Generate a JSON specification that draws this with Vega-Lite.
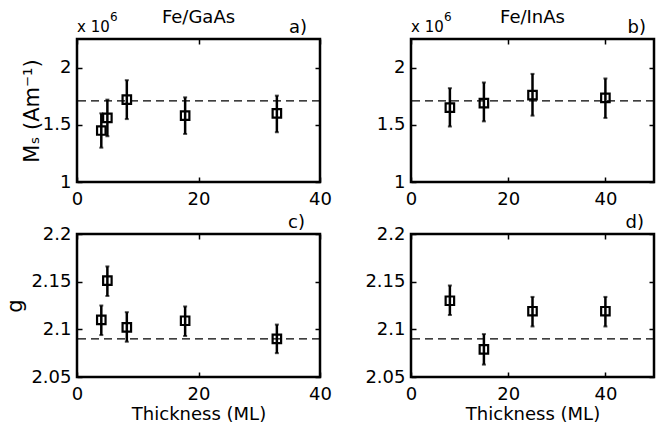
{
  "$schema": "https://vega.github.io/schema/vega-lite/v6.json",
  "autosize": {"type": "none"},
  "padding": {"left": 77, "top": 39, "right": 588, "bottom": 389},
  "background": "white",
  "datasets": {
    "a": [
      {"t": 4, "v": 1.45, "lo": 1.30, "hi": 1.60},
      {"t": 5, "v": 1.56, "lo": 1.40, "hi": 1.72},
      {"t": 8.2, "v": 1.72, "lo": 1.55, "hi": 1.89},
      {"t": 17.8, "v": 1.58, "lo": 1.42, "hi": 1.74},
      {"t": 32.9, "v": 1.60, "lo": 1.435, "hi": 1.755}
    ],
    "b": [
      {"t": 8, "v": 1.65, "lo": 1.485, "hi": 1.82},
      {"t": 15, "v": 1.69, "lo": 1.53, "hi": 1.87},
      {"t": 25, "v": 1.76, "lo": 1.58, "hi": 1.945},
      {"t": 40, "v": 1.735, "lo": 1.56, "hi": 1.905}
    ],
    "c": [
      {"t": 4, "v": 2.11, "lo": 2.094, "hi": 2.125},
      {"t": 5, "v": 2.151, "lo": 2.135, "hi": 2.166},
      {"t": 8.2, "v": 2.102, "lo": 2.087, "hi": 2.118},
      {"t": 17.8, "v": 2.109, "lo": 2.093, "hi": 2.124},
      {"t": 32.9, "v": 2.09, "lo": 2.075, "hi": 2.105}
    ],
    "d": [
      {"t": 8, "v": 2.13, "lo": 2.115, "hi": 2.146},
      {"t": 15, "v": 2.079, "lo": 2.063, "hi": 2.095},
      {"t": 25, "v": 2.119, "lo": 2.103, "hi": 2.134},
      {"t": 40, "v": 2.119, "lo": 2.103, "hi": 2.134}
    ],
    "msref": [{"v": 1.71}],
    "gref": [{"v": 2.09}]
  },
  "concat": [
    {
      "width": 243, "height": 143,
      "resolve": {"axis": {"x": "independent", "y": "independent"}},
      "layer": [
        {"data": {"name": "msref"}, "mark": {"type": "rule", "strokeDash": [8, 5], "strokeWidth": 1.2, "color": "black"},
         "encoding": {"y": {"field": "v", "type": "quantitative", "scale": {"domain": [1, 2.25], "nice": false, "zero": false}, "axis": null}}},
        {"data": {"name": "a"}, "mark": {"type": "rule", "strokeWidth": 2.5, "color": "black"},
         "encoding": {"x": {"field": "t", "type": "quantitative", "scale": {"domain": [0, 40], "nice": false, "zero": false}, "axis": null},
                      "y": {"field": "lo", "type": "quantitative", "scale": {"domain": [1, 2.25], "nice": false, "zero": false}, "axis": null}, "y2": {"field": "hi"}}},
        {"data": {"name": "a"}, "mark": {"type": "tick", "orient": "horizontal", "size": 4, "thickness": 2, "color": "black"},
         "encoding": {"x": {"field": "t", "type": "quantitative", "scale": {"domain": [0, 40], "nice": false, "zero": false}, "axis": null},
                      "y": {"field": "lo", "type": "quantitative", "scale": {"domain": [1, 2.25], "nice": false, "zero": false}, "axis": null}}},
        {"data": {"name": "a"}, "mark": {"type": "tick", "orient": "horizontal", "size": 4, "thickness": 2, "color": "black"},
         "encoding": {"x": {"field": "t", "type": "quantitative", "scale": {"domain": [0, 40], "nice": false, "zero": false}, "axis": null},
                      "y": {"field": "hi", "type": "quantitative", "scale": {"domain": [1, 2.25], "nice": false, "zero": false}, "axis": null}}},
        {"data": {"name": "a"}, "mark": {"type": "point", "shape": "square", "filled": false, "size": 72, "strokeWidth": 2.2, "color": "black", "opacity": 1},
         "encoding": {"x": {"field": "t", "type": "quantitative", "scale": {"domain": [0, 40], "nice": false, "zero": false}, "axis": {"orient": "bottom", "values": [0, 20, 40], "format": "d", "title": null}},
                      "y": {"field": "v", "type": "quantitative", "scale": {"domain": [1, 2.25], "nice": false, "zero": false}, "axis": {"orient": "left", "values": [1, 1.5, 2], "format": ".2~r", "title": "M\u209B (Am\u207B\u00B9)", "titleX": -39, "titleBaseline": "alphabetic", "titleFontSize": 21}}}},
        {"data": {"values": [{"label": "Fe/GaAs", "x": 20, "y": 2.25}]}, "mark": {"type": "text", "align": "center", "baseline": "alphabetic", "dy": -16, "fontSize": 18, "color": "black"},
         "encoding": {"text": {"field": "label"}, "x": {"field": "x", "type": "quantitative", "scale": {"domain": [0, 40], "nice": false, "zero": false}, "axis": null},
                      "y": {"field": "y", "type": "quantitative", "scale": {"domain": [1, 2.25], "nice": false, "zero": false}, "axis": null}}},
        {"data": {"values": [{"label": "x 10", "x": 0, "y": 2.25}]}, "mark": {"type": "text", "align": "left", "baseline": "alphabetic", "dy": -7, "fontSize": 15, "color": "black"},
         "encoding": {"text": {"field": "label"}, "x": {"field": "x", "type": "quantitative", "scale": {"domain": [0, 40], "nice": false, "zero": false}, "axis": null},
                      "y": {"field": "y", "type": "quantitative", "scale": {"domain": [1, 2.25], "nice": false, "zero": false}, "axis": null}}},
        {"data": {"values": [{"label": "6", "x": 0, "y": 2.25}]}, "mark": {"type": "text", "align": "left", "baseline": "alphabetic", "dx": 33, "dy": -18, "fontSize": 12, "color": "black"},
         "encoding": {"text": {"field": "label"}, "x": {"field": "x", "type": "quantitative", "scale": {"domain": [0, 40], "nice": false, "zero": false}, "axis": null},
                      "y": {"field": "y", "type": "quantitative", "scale": {"domain": [1, 2.25], "nice": false, "zero": false}, "axis": null}}},
        {"data": {"values": [{"label": "a)", "x": 40, "y": 2.25}]}, "mark": {"type": "text", "align": "right", "baseline": "alphabetic", "dx": -13, "dy": -6, "fontSize": 18, "color": "black"},
         "encoding": {"text": {"field": "label"}, "x": {"field": "x", "type": "quantitative", "scale": {"domain": [0, 40], "nice": false, "zero": false}, "axis": null},
                      "y": {"field": "y", "type": "quantitative", "scale": {"domain": [1, 2.25], "nice": false, "zero": false}, "axis": null}}},
        {"data": {"name": "a"}, "mark": {"type": "point", "opacity": 0},
         "encoding": {"x": {"field": "t", "type": "quantitative", "scale": {"domain": [0, 40], "nice": false, "zero": false}, "axis": {"orient": "top", "labels": false, "values": [0, 20, 40], "title": null}},
                      "y": {"field": "v", "type": "quantitative", "scale": {"domain": [1, 2.25], "nice": false, "zero": false}, "axis": {"orient": "right", "labels": false, "values": [1, 1.5, 2], "title": null}}}}
      ]
    },
    {
      "width": 243, "height": 143,
      "resolve": {"axis": {"x": "independent", "y": "independent"}},
      "layer": [
        {"data": {"name": "msref"}, "mark": {"type": "rule", "strokeDash": [8, 5], "strokeWidth": 1.2, "color": "black"},
         "encoding": {"y": {"field": "v", "type": "quantitative", "scale": {"domain": [1, 2.25], "nice": false, "zero": false}, "axis": null}}},
        {"data": {"name": "b"}, "mark": {"type": "rule", "strokeWidth": 2.5, "color": "black"},
         "encoding": {"x": {"field": "t", "type": "quantitative", "scale": {"domain": [0, 50], "nice": false, "zero": false}, "axis": null},
                      "y": {"field": "lo", "type": "quantitative", "scale": {"domain": [1, 2.25], "nice": false, "zero": false}, "axis": null}, "y2": {"field": "hi"}}},
        {"data": {"name": "b"}, "mark": {"type": "tick", "orient": "horizontal", "size": 4, "thickness": 2, "color": "black"},
         "encoding": {"x": {"field": "t", "type": "quantitative", "scale": {"domain": [0, 50], "nice": false, "zero": false}, "axis": null},
                      "y": {"field": "lo", "type": "quantitative", "scale": {"domain": [1, 2.25], "nice": false, "zero": false}, "axis": null}}},
        {"data": {"name": "b"}, "mark": {"type": "tick", "orient": "horizontal", "size": 4, "thickness": 2, "color": "black"},
         "encoding": {"x": {"field": "t", "type": "quantitative", "scale": {"domain": [0, 50], "nice": false, "zero": false}, "axis": null},
                      "y": {"field": "hi", "type": "quantitative", "scale": {"domain": [1, 2.25], "nice": false, "zero": false}, "axis": null}}},
        {"data": {"name": "b"}, "mark": {"type": "point", "shape": "square", "filled": false, "size": 72, "strokeWidth": 2.2, "color": "black", "opacity": 1},
         "encoding": {"x": {"field": "t", "type": "quantitative", "scale": {"domain": [0, 50], "nice": false, "zero": false}, "axis": {"orient": "bottom", "values": [0, 20, 40], "format": "d", "title": null}},
                      "y": {"field": "v", "type": "quantitative", "scale": {"domain": [1, 2.25], "nice": false, "zero": false}, "axis": {"orient": "left", "values": [1, 1.5, 2], "format": ".2~r", "title": null}}}},
        {"data": {"values": [{"label": "Fe/InAs", "x": 25, "y": 2.25}]}, "mark": {"type": "text", "align": "center", "baseline": "alphabetic", "dy": -16, "fontSize": 18, "color": "black"},
         "encoding": {"text": {"field": "label"}, "x": {"field": "x", "type": "quantitative", "scale": {"domain": [0, 50], "nice": false, "zero": false}, "axis": null},
                      "y": {"field": "y", "type": "quantitative", "scale": {"domain": [1, 2.25], "nice": false, "zero": false}, "axis": null}}},
        {"data": {"values": [{"label": "x 10", "x": 0, "y": 2.25}]}, "mark": {"type": "text", "align": "left", "baseline": "alphabetic", "dy": -7, "fontSize": 15, "color": "black"},
         "encoding": {"text": {"field": "label"}, "x": {"field": "x", "type": "quantitative", "scale": {"domain": [0, 50], "nice": false, "zero": false}, "axis": null},
                      "y": {"field": "y", "type": "quantitative", "scale": {"domain": [1, 2.25], "nice": false, "zero": false}, "axis": null}}},
        {"data": {"values": [{"label": "6", "x": 0, "y": 2.25}]}, "mark": {"type": "text", "align": "left", "baseline": "alphabetic", "dx": 33, "dy": -18, "fontSize": 12, "color": "black"},
         "encoding": {"text": {"field": "label"}, "x": {"field": "x", "type": "quantitative", "scale": {"domain": [0, 50], "nice": false, "zero": false}, "axis": null},
                      "y": {"field": "y", "type": "quantitative", "scale": {"domain": [1, 2.25], "nice": false, "zero": false}, "axis": null}}},
        {"data": {"values": [{"label": "b)", "x": 50, "y": 2.25}]}, "mark": {"type": "text", "align": "right", "baseline": "alphabetic", "dx": -8, "dy": -6, "fontSize": 18, "color": "black"},
         "encoding": {"text": {"field": "label"}, "x": {"field": "x", "type": "quantitative", "scale": {"domain": [0, 50], "nice": false, "zero": false}, "axis": null},
                      "y": {"field": "y", "type": "quantitative", "scale": {"domain": [1, 2.25], "nice": false, "zero": false}, "axis": null}}},
        {"data": {"name": "b"}, "mark": {"type": "point", "opacity": 0},
         "encoding": {"x": {"field": "t", "type": "quantitative", "scale": {"domain": [0, 50], "nice": false, "zero": false}, "axis": {"orient": "top", "labels": false, "values": [0, 20, 40], "title": null}},
                      "y": {"field": "v", "type": "quantitative", "scale": {"domain": [1, 2.25], "nice": false, "zero": false}, "axis": {"orient": "right", "labels": false, "values": [1, 1.5, 2], "title": null}}}}
      ]
    },
    {
      "width": 243, "height": 143,
      "resolve": {"axis": {"x": "independent", "y": "independent"}},
      "layer": [
        {"data": {"name": "gref"}, "mark": {"type": "rule", "strokeDash": [8, 5], "strokeWidth": 1.2, "color": "black"},
         "encoding": {"y": {"field": "v", "type": "quantitative", "scale": {"domain": [2.05, 2.2], "nice": false, "zero": false}, "axis": null}}},
        {"data": {"name": "c"}, "mark": {"type": "rule", "strokeWidth": 2.5, "color": "black"},
         "encoding": {"x": {"field": "t", "type": "quantitative", "scale": {"domain": [0, 40], "nice": false, "zero": false}, "axis": null},
                      "y": {"field": "lo", "type": "quantitative", "scale": {"domain": [2.05, 2.2], "nice": false, "zero": false}, "axis": null}, "y2": {"field": "hi"}}},
        {"data": {"name": "c"}, "mark": {"type": "tick", "orient": "horizontal", "size": 4, "thickness": 2, "color": "black"},
         "encoding": {"x": {"field": "t", "type": "quantitative", "scale": {"domain": [0, 40], "nice": false, "zero": false}, "axis": null},
                      "y": {"field": "lo", "type": "quantitative", "scale": {"domain": [2.05, 2.2], "nice": false, "zero": false}, "axis": null}}},
        {"data": {"name": "c"}, "mark": {"type": "tick", "orient": "horizontal", "size": 4, "thickness": 2, "color": "black"},
         "encoding": {"x": {"field": "t", "type": "quantitative", "scale": {"domain": [0, 40], "nice": false, "zero": false}, "axis": null},
                      "y": {"field": "hi", "type": "quantitative", "scale": {"domain": [2.05, 2.2], "nice": false, "zero": false}, "axis": null}}},
        {"data": {"name": "c"}, "mark": {"type": "point", "shape": "square", "filled": false, "size": 72, "strokeWidth": 2.2, "color": "black", "opacity": 1},
         "encoding": {"x": {"field": "t", "type": "quantitative", "scale": {"domain": [0, 40], "nice": false, "zero": false}, "axis": {"orient": "bottom", "values": [0, 20, 40], "format": "d", "title": "Thickness (ML)", "titleY": 42, "titleBaseline": "alphabetic"}},
                      "y": {"field": "v", "type": "quantitative", "scale": {"domain": [2.05, 2.2], "nice": false, "zero": false}, "axis": {"orient": "left", "values": [2.05, 2.1, 2.15, 2.2], "format": ".3~r", "title": "g", "titleX": -56, "titleBaseline": "alphabetic", "titleFontSize": 21}}}},
        {"data": {"values": [{"label": "c)", "x": 40, "y": 2.2}]}, "mark": {"type": "text", "align": "right", "baseline": "alphabetic", "dx": -15, "dy": -6, "fontSize": 18, "color": "black"},
         "encoding": {"text": {"field": "label"}, "x": {"field": "x", "type": "quantitative", "scale": {"domain": [0, 40], "nice": false, "zero": false}, "axis": null},
                      "y": {"field": "y", "type": "quantitative", "scale": {"domain": [2.05, 2.2], "nice": false, "zero": false}, "axis": null}}},
        {"data": {"name": "c"}, "mark": {"type": "point", "opacity": 0},
         "encoding": {"x": {"field": "t", "type": "quantitative", "scale": {"domain": [0, 40], "nice": false, "zero": false}, "axis": {"orient": "top", "labels": false, "values": [0, 20, 40], "title": null}},
                      "y": {"field": "v", "type": "quantitative", "scale": {"domain": [2.05, 2.2], "nice": false, "zero": false}, "axis": {"orient": "right", "labels": false, "values": [2.05, 2.1, 2.15, 2.2], "title": null}}}}
      ]
    },
    {
      "width": 243, "height": 143,
      "resolve": {"axis": {"x": "independent", "y": "independent"}},
      "layer": [
        {"data": {"name": "gref"}, "mark": {"type": "rule", "strokeDash": [8, 5], "strokeWidth": 1.2, "color": "black"},
         "encoding": {"y": {"field": "v", "type": "quantitative", "scale": {"domain": [2.05, 2.2], "nice": false, "zero": false}, "axis": null}}},
        {"data": {"name": "d"}, "mark": {"type": "rule", "strokeWidth": 2.5, "color": "black"},
         "encoding": {"x": {"field": "t", "type": "quantitative", "scale": {"domain": [0, 50], "nice": false, "zero": false}, "axis": null},
                      "y": {"field": "lo", "type": "quantitative", "scale": {"domain": [2.05, 2.2], "nice": false, "zero": false}, "axis": null}, "y2": {"field": "hi"}}},
        {"data": {"name": "d"}, "mark": {"type": "tick", "orient": "horizontal", "size": 4, "thickness": 2, "color": "black"},
         "encoding": {"x": {"field": "t", "type": "quantitative", "scale": {"domain": [0, 50], "nice": false, "zero": false}, "axis": null},
                      "y": {"field": "lo", "type": "quantitative", "scale": {"domain": [2.05, 2.2], "nice": false, "zero": false}, "axis": null}}},
        {"data": {"name": "d"}, "mark": {"type": "tick", "orient": "horizontal", "size": 4, "thickness": 2, "color": "black"},
         "encoding": {"x": {"field": "t", "type": "quantitative", "scale": {"domain": [0, 50], "nice": false, "zero": false}, "axis": null},
                      "y": {"field": "hi", "type": "quantitative", "scale": {"domain": [2.05, 2.2], "nice": false, "zero": false}, "axis": null}}},
        {"data": {"name": "d"}, "mark": {"type": "point", "shape": "square", "filled": false, "size": 72, "strokeWidth": 2.2, "color": "black", "opacity": 1},
         "encoding": {"x": {"field": "t", "type": "quantitative", "scale": {"domain": [0, 50], "nice": false, "zero": false}, "axis": {"orient": "bottom", "values": [0, 20, 40], "format": "d", "title": "Thickness (ML)", "titleY": 42, "titleBaseline": "alphabetic"}},
                      "y": {"field": "v", "type": "quantitative", "scale": {"domain": [2.05, 2.2], "nice": false, "zero": false}, "axis": {"orient": "left", "values": [2.05, 2.1, 2.15, 2.2], "format": ".3~r", "title": null}}}},
        {"data": {"values": [{"label": "d)", "x": 50, "y": 2.2}]}, "mark": {"type": "text", "align": "right", "baseline": "alphabetic", "dx": -10, "dy": -6, "fontSize": 18, "color": "black"},
         "encoding": {"text": {"field": "label"}, "x": {"field": "x", "type": "quantitative", "scale": {"domain": [0, 50], "nice": false, "zero": false}, "axis": null},
                      "y": {"field": "y", "type": "quantitative", "scale": {"domain": [2.05, 2.2], "nice": false, "zero": false}, "axis": null}}},
        {"data": {"name": "d"}, "mark": {"type": "point", "opacity": 0},
         "encoding": {"x": {"field": "t", "type": "quantitative", "scale": {"domain": [0, 50], "nice": false, "zero": false}, "axis": {"orient": "top", "labels": false, "values": [0, 20, 40], "title": null}},
                      "y": {"field": "v", "type": "quantitative", "scale": {"domain": [2.05, 2.2], "nice": false, "zero": false}, "axis": {"orient": "right", "labels": false, "values": [2.05, 2.1, 2.15, 2.2], "title": null}}}}
      ]
    }
  ],
  "columns": 2,
  "spacing": {"row": 52, "column": 91},
  "bounds": "flush",
  "config": {
    "font": "DejaVu Sans",
    "view": {"stroke": "black", "strokeWidth": 2.5},
    "text": {"font": "DejaVu Sans"},
    "axis": {"labelFont": "DejaVu Sans", "labelFontSize": 18, "labelColor": "black", "titleFont": "DejaVu Sans", "titleFontSize": 18, "titleFontWeight": "normal", "titleColor": "black", "tickColor": "black", "tickSize": -5, "tickWidth": 1.5, "domain": false, "grid": false, "labelFlush": false, "labelOverlap": false},
    "axisX": {"labelPadding": 13},
    "axisY": {"labelPadding": 11}
  }
}
